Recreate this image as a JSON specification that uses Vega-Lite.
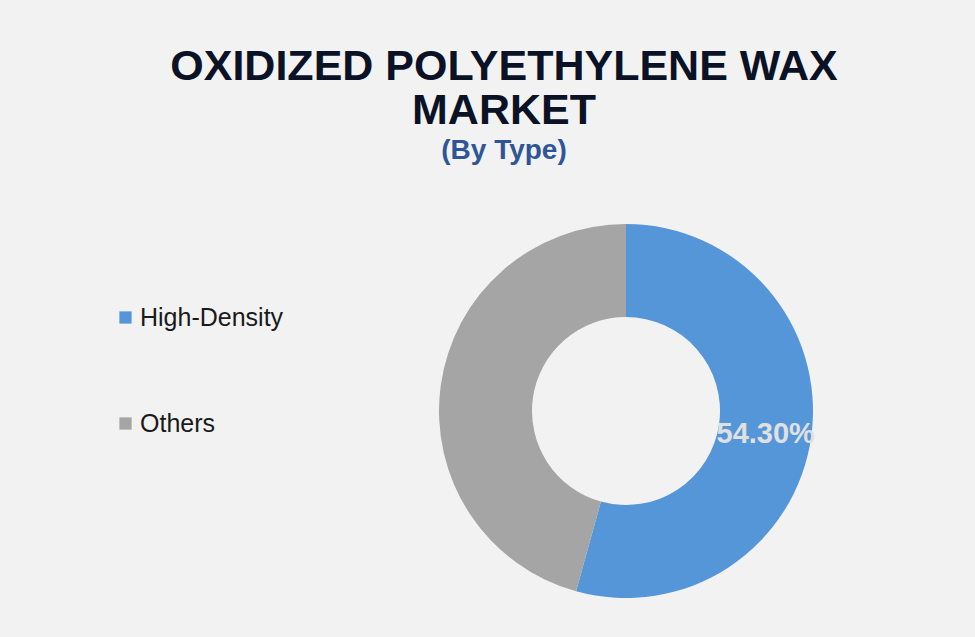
{
  "$schema": "https://vega.github.io/schema/vega-lite/v6.json",
  "background": "#f2f2f2",
  "autosize": {"type": "none"},
  "padding": {"left": 290, "top": 185, "right": 13, "bottom": 0},
  "width": 672,
  "height": 452,
  "title": {
    "text": ["OXIDIZED POLYETHYLENE WAX", "MARKET"],
    "subtitle": "(By Type)",
    "anchor": "middle",
    "frame": "group",
    "dx": -122,
    "offset": 20,
    "font": "Liberation Sans",
    "fontSize": 43,
    "fontWeight": "bold",
    "lineHeight": 44,
    "color": "#0b1226",
    "subtitleFont": "Liberation Sans",
    "subtitleFontSize": 28,
    "subtitleFontWeight": "bold",
    "subtitleColor": "#2f5597",
    "subtitlePadding": 4
  },
  "data": {
    "values": [
      {"type": "High-Density", "share": 54.3},
      {"type": "Others", "share": 45.7}
    ]
  },
  "transform": [
    {"calculate": "datum.type == 'High-Density' ? format(datum.share, '.2f') + '%' : ''", "as": "label"}
  ],
  "encoding": {
    "theta": {"field": "share", "type": "quantitative", "stack": true},
    "order": {"field": "type", "sort": "ascending"},
    "color": {
      "field": "type",
      "type": "nominal",
      "scale": {"domain": ["High-Density", "Others"], "range": ["#5596d8", "#a5a5a5"]},
      "legend": {
        "title": null,
        "orient": "none",
        "legendX": -177,
        "legendY": 120,
        "symbolType": "square",
        "symbolSize": 150,
        "symbolStrokeWidth": 0,
        "symbolOpacity": 1,
        "labelFont": "Liberation Sans",
        "labelFontSize": 25,
        "labelColor": "#1a1a1a",
        "labelOffset": 2,
        "rowPadding": 80,
        "labelLimit": 300
      }
    }
  },
  "layer": [
    {"mark": {"type": "arc", "outerRadius": 187, "innerRadius": 94}},
    {
      "mark": {"type": "text", "radius": 141, "dy": 4, "font": "Liberation Sans", "fontSize": 29, "fontWeight": "bold"},
      "encoding": {"text": {"field": "label"}, "fill": {"value": "#e0e0e0"}}
    }
  ],
  "config": {"view": {"stroke": null}}
}
